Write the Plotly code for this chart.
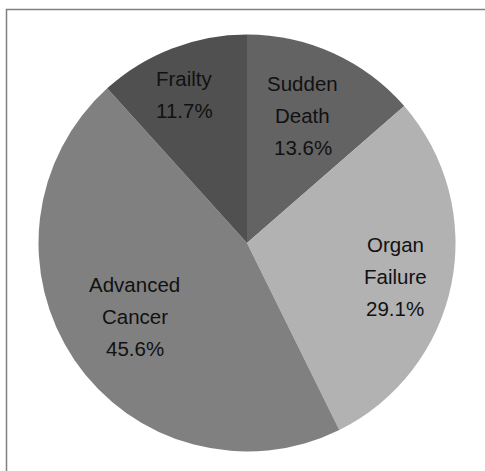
import math
import plotly.graph_objects as go

# Data
categories = ["Sudden Death", "Organ Failure", "Advanced Cancer", "Frailty"]
label_lines = [["Sudden", "Death"], ["Organ", "Failure"], ["Advanced", "Cancer"], ["Frailty"]]
values = [13.6, 29.1, 45.6, 11.7]
colors = ["#636363", "#b2b2b2", "#808080", "#505050"]

# label placement style (radius fraction, small angle nudge in degrees)
label_radius_frac = [0.667, 0.728, 0.644, 0.771]
label_angle_nudge = [-0.9, 1.4, 1.0, -1.8]

W, H = 485, 471
cx, cy, R = 247.0, 243.0, 208.5  # pie centre / radius in pixels
LINE_H = 32.0
FONT = dict(family="Liberation Sans, Arial, sans-serif", size=20.5, color="#111111")

fig = go.Figure(go.Pie(
    labels=categories,
    values=values,
    sort=False,
    direction="clockwise",
    rotation=0,
    marker=dict(colors=colors, line=dict(width=0)),
    textinfo="none",
    hoverinfo="label+percent",
    showlegend=False,
    domain=dict(x=[(cx - R) / W, (cx + R) / W], y=[1 - (cy + R) / H, 1 - (cy - R) / H]),
))

# Labels placed at each slice's mid-angle (computed from values)
total = sum(values)
cum = 0.0
annotations = []
for cat_lines, v, frac, nudge in zip(label_lines, values, label_radius_frac, label_angle_nudge):
    mid = (cum + v / 2) / total * 2 * math.pi + math.radians(nudge)
    cum += v
    px = cx + frac * R * math.sin(mid)
    py = cy - frac * R * math.cos(mid)
    lines = cat_lines + [f"{v / total * 100:.1f}%"]
    n = len(lines)
    for i, t in enumerate(lines):
        dy = (i - (n - 1) / 2) * LINE_H
        annotations.append(dict(
            x=px / W, y=1 - (py + dy) / H, xref="paper", yref="paper",
            text=t, showarrow=False, xanchor="center", yanchor="middle",
            font=FONT,
        ))

fig.update_layout(
    width=W, height=H,
    margin=dict(l=0, r=0, t=0, b=0),
    paper_bgcolor="white",
    plot_bgcolor="white",
    annotations=annotations,
    shapes=[dict(
        type="rect", xref="paper", yref="paper",
        x0=6.5 / W, x1=1.05, y0=-0.05, y1=1 - 9.5 / H,
        line=dict(color="#808080", width=1.5), fillcolor="rgba(0,0,0,0)",
        layer="above",
    )],
)

fig.write_html("out.html")
